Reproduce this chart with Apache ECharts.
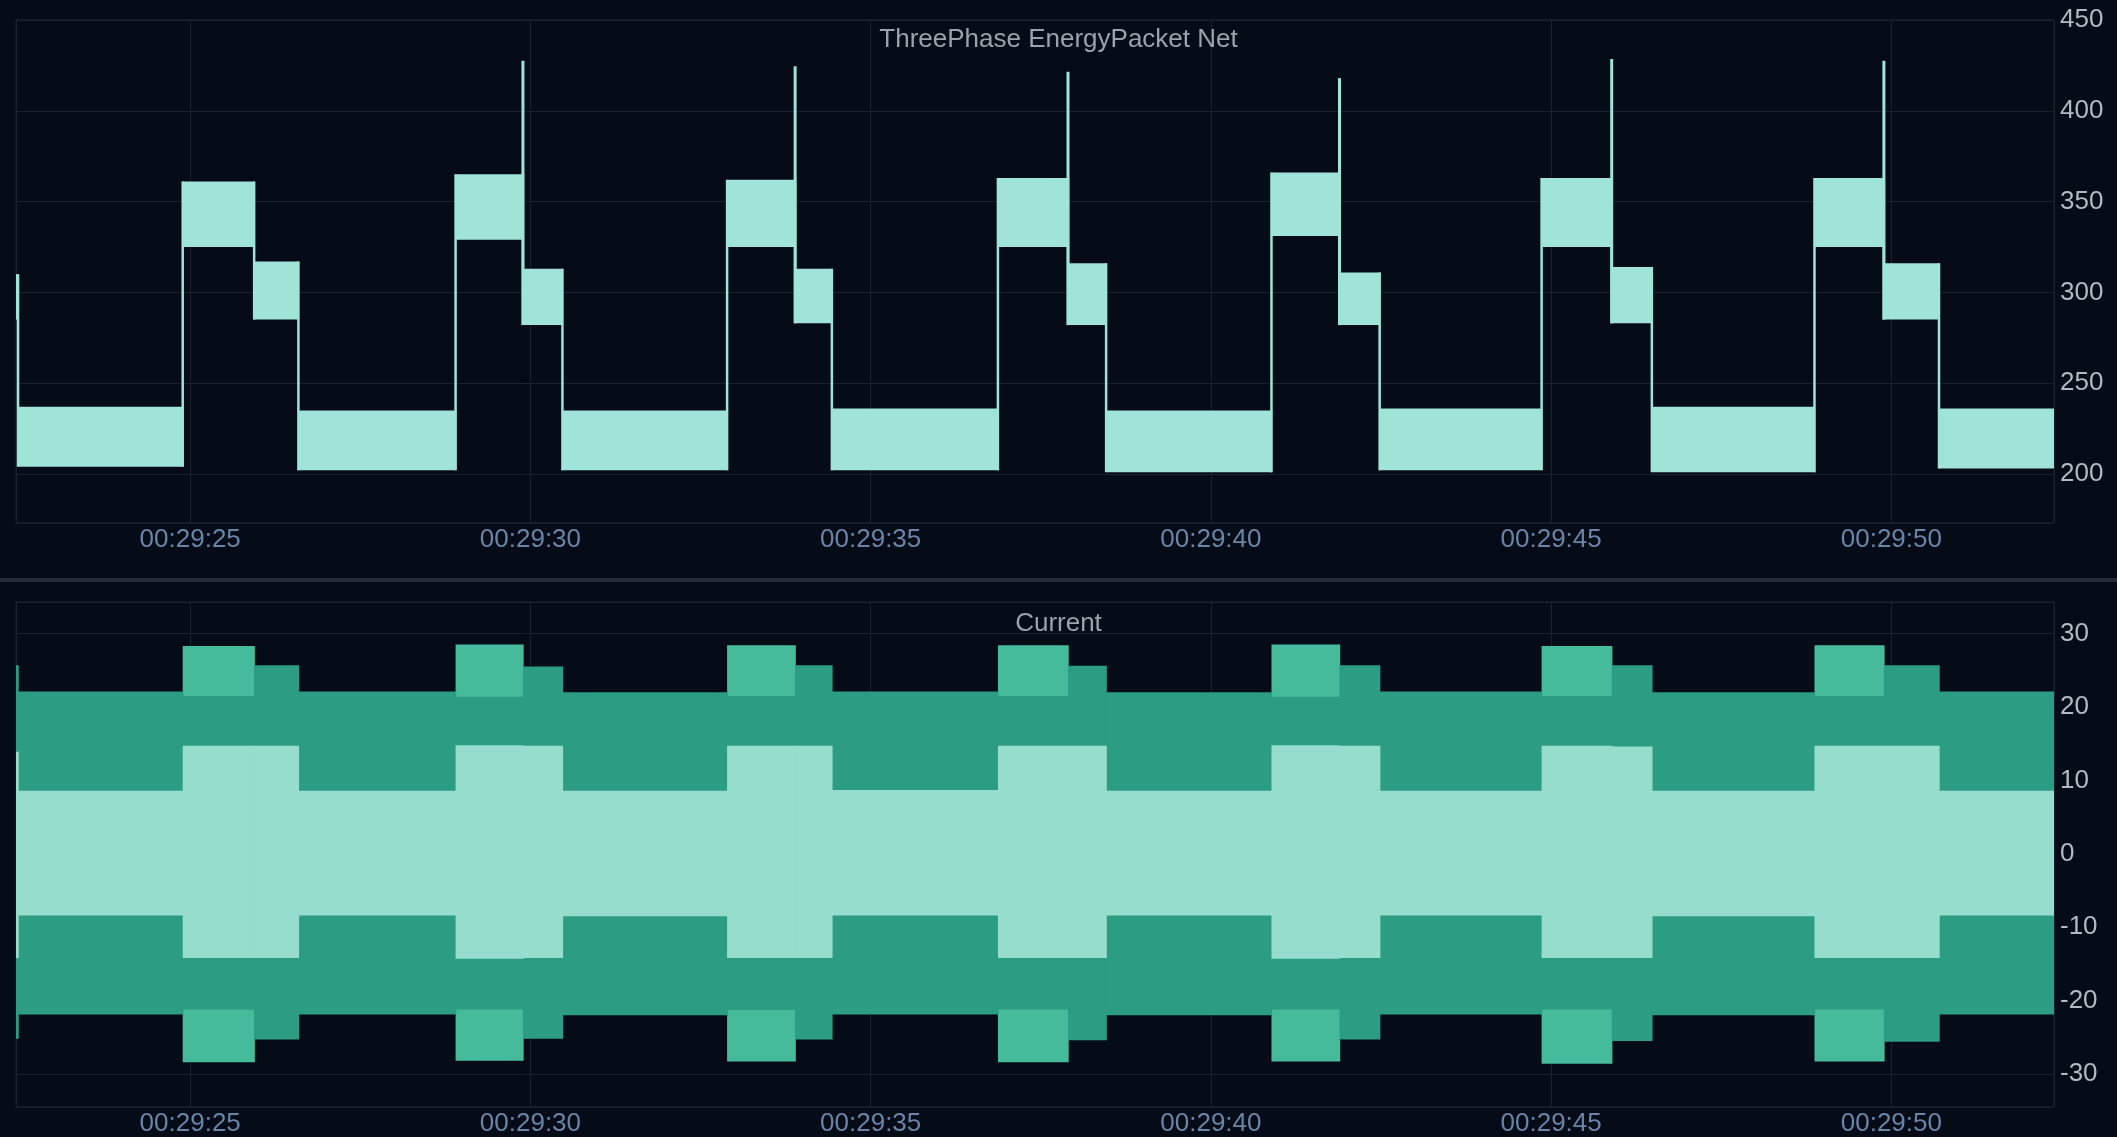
<!DOCTYPE html>
<html>
<head>
<meta charset="utf-8">
<script src="https://cdn.jsdelivr.net/npm/echarts@6/dist/echarts.min.js"></script>
<style>
  html, body { margin: 0; padding: 0; background: #050b17; }
  #chart { width: 2117px; height: 1137px; }
</style>
</head>
<body>
<div id="chart"></div>
<script>
// Time is given in seconds after 00:29:00.
// Each segment i runs from segBounds[i] to segBounds[i + 1].
const segBounds = [22.44, 22.47, 24.89, 25.94, 26.59, 28.90, 29.89, 30.47, 32.89, 33.89, 34.43,
                   36.87, 37.90, 38.46, 40.89, 41.89, 42.48, 44.86, 45.89, 46.48, 48.87, 49.89,
                   50.70, 52.39];

// ThreePhase EnergyPacket Net: lower / upper edge of the signal band in each segment
const energyLow  = [285, 204, 325, 285, 202, 329, 282, 202, 325, 283, 202, 325, 282, 201, 331, 282, 202, 325, 283, 201, 325, 285, 203];
const energyHigh = [310, 237, 361, 317, 235, 365, 313, 235, 362, 313, 236, 363, 316, 235, 366, 311, 236, 363, 314, 237, 363, 316, 236];

// Short switching peaks
const spikeTimes = [29.89, 33.89, 37.90, 41.89, 45.89, 49.89];
const spikePeaks = [427.5, 424.5, 421.5, 418, 428.5, 427.5];

// Current: swing of the three phases in each segment
const phaseAHigh = [13.9, 8.6, 14.7, 14.7, 8.6, 14.8, 14.7, 8.6, 14.7, 14.7, 8.7, 14.7, 14.7, 8.6, 14.8, 14.7, 8.6, 14.7, 14.6, 8.6, 14.7, 14.7, 8.6];
const phaseALow  = [-14.2, -8.4, -14.2, -14.2, -8.4, -14.3, -14.2, -8.5, -14.2, -14.2, -8.4, -14.2, -14.2, -8.4, -14.3, -14.2, -8.4, -14.2, -14.2, -8.5, -14.2, -14.2, -8.4];
const phaseBHigh = [25.7, 22.1, 21.5, 25.7, 22.1, 21.4, 25.5, 22.0, 21.5, 25.7, 22.1, 21.5, 25.6, 22.0, 21.4, 25.7, 22.1, 21.5, 25.7, 22.0, 21.5, 25.7, 22.1];
const phaseBLow  = [-25.2, -21.9, -21.2, -25.3, -21.9, -21.2, -25.2, -22.0, -21.3, -25.3, -21.9, -21.2, -25.4, -22.0, -21.2, -25.3, -21.9, -21.2, -25.5, -22.0, -21.2, -25.6, -21.9];
const phaseCHigh = [null, null, 28.3, null, null, 28.5, null, null, 28.4, null, null, 28.4, null, null, 28.5, null, null, 28.3, null, null, 28.4, null, null];
const phaseCLow  = [null, null, -28.4, null, null, -28.2, null, null, -28.3, null, null, -28.4, null, null, -28.3, null, null, -28.6, null, null, -28.3, null, null];

// Axis tick labels
const energyTicks = [200, 250, 300, 350, 400, 450];
const currentTicks = [-30, -20, -10, 0, 10, 20, 30];

const BG = '#050b17';
const GRID_LINE = '#1a2230';
const FONT = '"Liberation Sans", Arial, sans-serif';

function bandData(lo, hi) {
  const out = [];
  for (let i = 0; i < lo.length; i++) {
    if (lo[i] == null || hi[i] == null) continue;
    out.push([segBounds[i], segBounds[i + 1], lo[i], hi[i]]);
  }
  return out;
}

function bandSeries(name, axis, lo, hi, color) {
  return {
    type: 'custom', name: name, xAxisIndex: axis, yAxisIndex: axis,
    clip: true, silent: true,
    encode: { x: [0, 1], y: [2, 3] },
    renderItem: function (params, api) {
      const a = api.coord([api.value(0), api.value(3)]);
      const b = api.coord([api.value(1), api.value(2)]);
      return {
        type: 'rect',
        shape: { x: a[0], y: a[1], width: b[0] - a[0] + 0.7, height: b[1] - a[1] },
        style: { fill: color }
      };
    },
    data: bandData(lo, hi)
  };
}

// vertical strokes: [time, from, to]
function strokeSeries(name, axis, data, color, width) {
  return {
    type: 'custom', name: name, xAxisIndex: axis, yAxisIndex: axis,
    clip: true, silent: true,
    encode: { x: 0, y: [1, 2] },
    renderItem: function (params, api) {
      const a = api.coord([api.value(0), api.value(1)]);
      const b = api.coord([api.value(0), api.value(2)]);
      return {
        type: 'line',
        shape: { x1: a[0], y1: a[1], x2: b[0], y2: b[1] },
        style: { stroke: color, lineWidth: width }
      };
    },
    data: data
  };
}

// jumps of the energy signal between neighbouring segments
const energyJumps = [];
for (let i = 1; i < energyLow.length; i++) {
  energyJumps.push([segBounds[i], Math.min(energyLow[i - 1], energyLow[i]), Math.max(energyHigh[i - 1], energyHigh[i])]);
}
const energySpikes = spikeTimes.map(function (t, k) {
  const i = segBounds.indexOf(t);
  return [t, energyLow[i], spikePeaks[k]];
});

function pad2(n) { return (n < 10 ? '0' : '') + n; }
function timeLabel(v) {
  const s = Math.round(v);
  return '00:' + pad2(29 + Math.floor(s / 60)) + ':' + pad2(s % 60);
}

function xAxisFor(idx) {
  return {
    type: 'value', gridIndex: idx,
    min: segBounds[0], max: segBounds[segBounds.length - 1],
    minInterval: 5, maxInterval: 5,
    axisLine: { show: false }, axisTick: { show: false },
    splitLine: { show: true, lineStyle: { color: GRID_LINE, width: 1 } },
    axisLabel: {
      color: '#6a84a6', fontSize: 26, fontFamily: FONT, margin: 4,
      showMinLabel: false, showMaxLabel: false, formatter: timeLabel
    }
  };
}

function yAxisFor(idx, min, max, step, ticks) {
  return {
    type: 'value', gridIndex: idx, position: 'right',
    min: min, max: max, minInterval: step, maxInterval: step,
    axisLine: { show: false }, axisTick: { show: false },
    splitLine: { show: true, lineStyle: { color: GRID_LINE, width: 1 } },
    axisLabel: {
      color: '#b4b8c0', fontSize: 26, fontFamily: FONT, margin: 6,
      showMinLabel: false, showMaxLabel: max !== ticks[ticks.length - 1] ? false : true,
      formatter: function (v) { return ticks.indexOf(v) >= 0 ? String(v) : ''; }
    }
  };
}

const chart = echarts.init(document.getElementById('chart'), null, { renderer: 'canvas' });
chart.setOption({
  backgroundColor: BG,
  animation: false,
  title: [
    { text: 'ThreePhase EnergyPacket Net', left: 'center', top: 27, padding: 0,
      textStyle: { color: '#9ca1aa', fontSize: 26, fontWeight: 'normal', fontFamily: FONT } },
    { text: 'Current', left: 'center', top: 611, padding: 0,
      textStyle: { color: '#9ca1aa', fontSize: 26, fontWeight: 'normal', fontFamily: FONT } }
  ],
  graphic: [
    { type: 'rect', shape: { x: 0, y: 578, width: 2117, height: 4 }, style: { fill: '#262b36' }, silent: true }
  ],
  grid: [
    { left: 16, right: 63, top: 20, height: 503, show: true, borderColor: '#1e2635', borderWidth: 1, backgroundColor: 'transparent' },
    { left: 16, right: 63, top: 602, height: 505, show: true, borderColor: '#1e2635', borderWidth: 1, backgroundColor: 'transparent' }
  ],
  xAxis: [xAxisFor(0), xAxisFor(1)],
  yAxis: [
    yAxisFor(0, 173, 450, 50, energyTicks),
    yAxisFor(1, -34.5, 34.3, 10, currentTicks)
  ],
  series: [
    strokeSeries('EnergyPacket jumps', 0, energyJumps, '#9fe4d6', 2.5),
    strokeSeries('EnergyPacket peaks', 0, energySpikes, '#9fe4d6', 3),
    bandSeries('EnergyPacket Net', 0, energyLow, energyHigh, '#9fe4d6'),
    bandSeries('Current C', 1, phaseCLow, phaseCHigh, '#45bb9b'),
    bandSeries('Current B', 1, phaseBLow, phaseBHigh, '#2c9c82'),
    bandSeries('Current A', 1, phaseALow, phaseAHigh, '#97ddcd')
  ]
});
</script>
</body>
</html>
